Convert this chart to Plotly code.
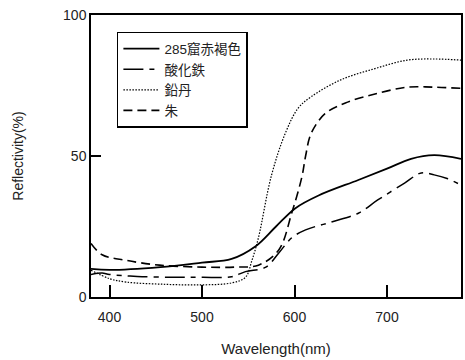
import plotly.graph_objects as go

# 285窟赤褐色 (solid)
x_red = [380, 400, 455, 500, 532, 558, 580, 601, 626, 669, 700, 726, 751, 780]
y_red = [10.0, 9.6, 10.6, 12.2, 13.5, 18, 25, 31.5, 36, 41.5, 45.5, 49, 50.3, 49]

# 酸化鉄 (dash-dot)
x_fe = [380, 392, 400, 430, 470, 500, 532, 547, 569, 583, 597, 612, 640, 669, 690, 719, 737, 751, 765, 780]
y_fe = [8.0, 8.5, 8.0, 7.3, 7.0, 7.0, 7.2, 9.0, 10.6, 15.6, 21, 23.8, 26.6, 29.7, 34.4, 40.4, 44, 43.3, 42, 39.7]

# 鉛丹 (dotted)
x_pb = [380, 400, 418, 460, 500, 532, 547, 554, 561, 575, 590, 604, 618, 650, 687, 722, 751, 780]
y_pb = [9.5, 6.5, 5.3, 4.5, 4.3, 5.0, 7.0, 13, 21, 43, 58, 67, 71, 77, 81, 84, 84.4, 84]

# 朱 (dashed)
x_hg = [380, 392, 418, 454, 500, 536, 561, 583, 597, 608, 612, 618, 633, 655, 687, 722, 751, 780]
y_hg = [19, 15, 13, 11.3, 10.6, 10.6, 11.3, 16.7, 29.8, 42.6, 50, 58, 65, 68.8, 72, 74.4, 74.4, 74]

names = ["285窟赤褐色", "酸化鉄", "鉛丹", "朱"]

fig = go.Figure()
fig.add_trace(go.Scatter(x=x_red, y=y_red, name=names[0], mode="lines",
                         line=dict(color="black", width=1.8, shape="spline")))
fig.add_trace(go.Scatter(x=x_fe, y=y_fe, name=names[1], mode="lines",
                         line=dict(color="black", width=1.5, dash="20px,6px,5px,6px", shape="spline")))
fig.add_trace(go.Scatter(x=x_pb, y=y_pb, name=names[2], mode="lines",
                         line=dict(color="black", width=1.2, dash="1.5px,1.5px", shape="spline")))
fig.add_trace(go.Scatter(x=x_hg, y=y_hg, name=names[3], mode="lines",
                         line=dict(color="black", width=1.6, dash="9px,5px", shape="spline")))

font = "Liberation Sans, Arial, Noto Sans CJK JP, sans-serif"
fig.update_layout(
    width=465, height=360,
    margin=dict(l=91, r=2, t=15, b=63),
    paper_bgcolor="white", plot_bgcolor="white",
    font=dict(family=font, size=14, color="#222"),
    legend=dict(x=0.07, y=0.94, xanchor="left", yanchor="top",
                bordercolor="black", borderwidth=1.5, bgcolor="white",
                font=dict(family="Liberation Sans, Noto Sans CJK JP, sans-serif", size=13.5, color="#222"),
                tracegroupgap=0, itemwidth=36, entrywidth=150, entrywidthmode="pixels"),
    showlegend=True,
)
fig.update_xaxes(range=[380, 780], tickvals=[400, 500, 600, 700], ticks="inside", ticklen=12,
                 tickwidth=1.5, tickcolor="black", showline=True, linecolor="black", linewidth=1.5,
                 mirror=True, showgrid=False, zeroline=False, ticklabelstandoff=6,
                 title=dict(text="Wavelength(nm)", standoff=20, font=dict(size=15)))
fig.update_yaxes(range=[0, 100], tickvals=[0, 50, 100], ticks="inside", ticklen=10,
                 tickwidth=1.5, tickcolor="black", showline=True, linecolor="black", linewidth=1.5,
                 mirror=True, showgrid=False, zeroline=False,
                 title=dict(text="Reflectivity(%)", standoff=36, font=dict(size=14)))

fig.write_html("out.html", config={"displayModeBar": False},
               post_script="document.body.style.margin='0';document.body.style.overflow='hidden';")
